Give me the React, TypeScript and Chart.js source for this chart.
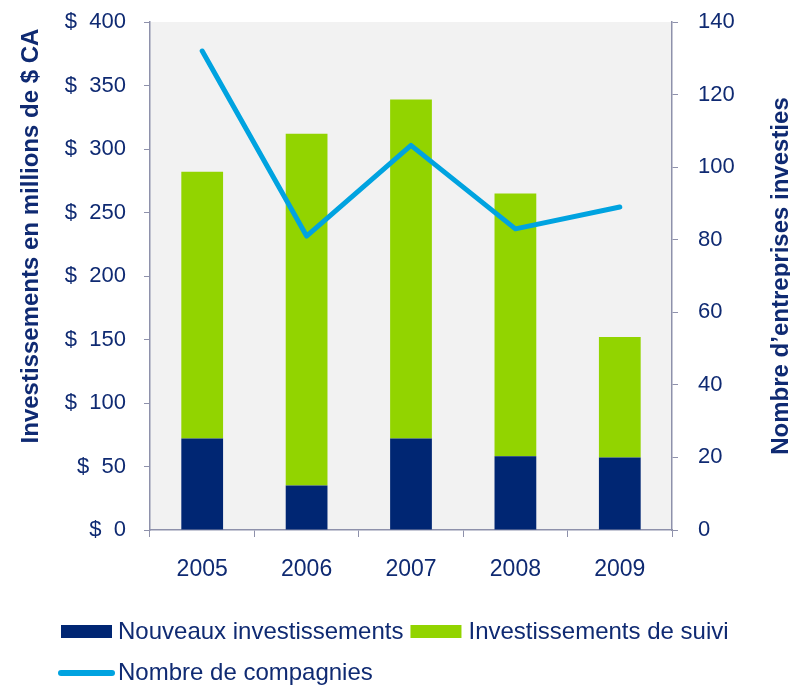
import React, { useEffect, useRef } from "react";
import { Chart, registerables } from "chart.js";

Chart.register(...registerables);

const years = ["2005", "2006", "2007", "2008", "2009"];
const nouveaux = [72, 35, 72, 58, 57];
const suivi = [210, 277, 267, 207, 95];
const compagnies = [132, 81, 106, 83, 89];

const leftTitle = "Investissements en millions de $ CA";
const rightTitle = "Nombre d\u2019entreprises investies";
const legendLabels = ["Nouveaux investissements", "Investissements de suivi", "Nombre de compagnies"];

const NAVY = "#002673";
const GREEN = "#92d400";
const BLUE = "#00a3e0";
const TEXT = "#0f2a72";
const AXIS = "#8e91ab";
const FONT = "'Liberation Sans', Arial, sans-serif";

const bgPlugin = {
  id: "bgPlugin",
  beforeDraw(chart: any) {
    const { ctx, chartArea } = chart;
    ctx.save();
    ctx.fillStyle = "#f2f2f2";
    ctx.fillRect(chartArea.left, chartArea.top, chartArea.right - chartArea.left, chartArea.bottom - chartArea.top);
    ctx.restore();
  },
};

const decorPlugin = {
  id: "decorPlugin",
  afterDraw(chart: any) {
    const { ctx } = chart;
    ctx.save();
    // Axis titles (both read bottom-to-top)
    ctx.fillStyle = TEXT;
    ctx.font = `bold 24px ${FONT}`;
    ctx.textAlign = "center";
    ctx.textBaseline = "alphabetic";
    ctx.save();
    ctx.translate(38, 236);
    ctx.rotate(-Math.PI / 2);
    ctx.fillText(leftTitle, 0, 0);
    ctx.restore();
    ctx.save();
    ctx.translate(788, 276);
    ctx.rotate(-Math.PI / 2);
    ctx.fillText(rightTitle, 0, 0);
    ctx.restore();

    // Legend
    ctx.font = `24px ${FONT}`;
    ctx.textAlign = "left";
    ctx.textBaseline = "middle";
    const row1 = 632;
    const row2 = 673;
    ctx.fillStyle = NAVY;
    ctx.fillRect(61, row1 - 7, 51, 13);
    ctx.fillStyle = TEXT;
    ctx.fillText(legendLabels[0], 118, row1);
    const x2 = 118 + ctx.measureText(legendLabels[0]).width + 7;
    ctx.fillStyle = GREEN;
    ctx.fillRect(x2, row1 - 7, 51, 13);
    ctx.fillStyle = TEXT;
    ctx.fillText(legendLabels[1], x2 + 58, row1);
    ctx.strokeStyle = BLUE;
    ctx.lineWidth = 6;
    ctx.lineCap = "round";
    ctx.beginPath();
    ctx.moveTo(61, row2);
    ctx.lineTo(112, row2);
    ctx.stroke();
    ctx.fillStyle = TEXT;
    ctx.fillText(legendLabels[2], 118, row2);
    ctx.restore();
  },
};

export default function App() {
  const ref = useRef<HTMLCanvasElement>(null);
  useEffect(() => {
    document.body.style.margin = "0";
    const chart = new Chart(ref.current as HTMLCanvasElement, {
      type: "bar",
      data: {
        labels: years,
        datasets: [
          {
            type: "line",
            label: legendLabels[2],
            data: compagnies,
            yAxisID: "y1",
            borderColor: BLUE,
            backgroundColor: BLUE,
            borderWidth: 5,
            pointRadius: 0,
            tension: 0,
            borderCapStyle: "round",
            borderJoinStyle: "round",
            order: 0,
          } as any,
          {
            label: legendLabels[0],
            data: nouveaux,
            backgroundColor: NAVY,
            yAxisID: "y",
            stack: "s",
            barPercentage: 0.4,
            categoryPercentage: 1,
            order: 1,
          },
          {
            label: legendLabels[1],
            data: suivi,
            backgroundColor: GREEN,
            yAxisID: "y",
            stack: "s",
            barPercentage: 0.4,
            categoryPercentage: 1,
            order: 1,
          },
        ],
      },
      options: {
        responsive: false,
        animation: false,
        devicePixelRatio: 1,
        layout: { padding: { top: 22, left: 0, right: 0, bottom: 0 } },
        plugins: { legend: { display: false }, tooltip: { enabled: false } },
        scales: {
          x: {
            stacked: true,
            grid: { display: true, drawOnChartArea: false, drawTicks: true, tickLength: 7, color: AXIS, offset: true },
            border: { display: true, color: AXIS, width: 1.5 },
            ticks: { color: TEXT, font: { family: FONT, size: 23 }, padding: 19 },
            afterFit: (s: any) => { s.height = 156; },
          },
          y: {
            stacked: true,
            position: "left",
            min: 0,
            max: 400,
            ticks: { stepSize: 50, color: TEXT, font: { family: FONT, size: 22 }, padding: 18, callback: (v: any) => "$  " + v },
            grid: { display: true, drawOnChartArea: false, drawTicks: true, tickLength: 6, color: AXIS },
            border: { display: true, color: AXIS, width: 1.5 },
            afterFit: (s: any) => { s.width = 150; s.paddingTop = 0; s.paddingBottom = 0; },
          },
          y1: {
            position: "right",
            min: 0,
            max: 140,
            ticks: { stepSize: 20, color: TEXT, font: { family: FONT, size: 22 }, padding: 20, crossAlign: "near" },
            grid: { display: true, drawOnChartArea: false, drawTicks: true, tickLength: 6, color: AXIS },
            border: { display: true, color: AXIS, width: 1.5 },
            afterFit: (s: any) => { s.width = 118; s.paddingTop = 0; s.paddingBottom = 0; },
          },
        },
      },
      plugins: [bgPlugin, decorPlugin],
    });
    return () => chart.destroy();
  }, []);
  return (
    <div style={{ position: "absolute", left: 0, top: 0, width: 790, height: 686 }}>
      <canvas ref={ref} width={790} height={686} />
    </div>
  );
}
